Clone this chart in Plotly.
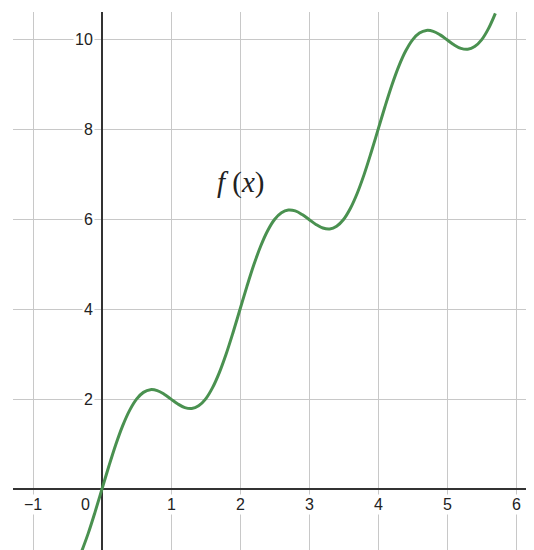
import plotly.graph_objects as go

# points
xs = [-0.3, -0.2, -0.1, 0.0, 0.1, 0.2, 0.3, 0.4, 0.5, 0.6, 0.7, 0.8, 0.9,
      1.0, 1.1, 1.2, 1.3, 1.4, 1.5, 1.6, 1.7, 1.8, 1.9,
      2.0, 2.1, 2.2, 2.3, 2.4, 2.5, 2.6, 2.7, 2.8, 2.9,
      3.0, 3.1, 3.2, 3.3, 3.4, 3.5, 3.6, 3.7, 3.8, 3.9,
      4.0, 4.1, 4.2, 4.3, 4.4, 4.5, 4.6, 4.7, 4.8, 4.9,
      5.0, 5.1, 5.2, 5.3, 5.4, 5.5, 5.6, 5.7]
ys = [-1.41, -0.99, -0.51, 0.0, 0.51, 0.99, 1.41, 1.75, 2.0, 2.15, 2.21, 2.19, 2.11,
      2.0, 1.89, 1.81, 1.79, 1.85, 2.0, 2.25, 2.59, 3.01, 3.49,
      4.0, 4.51, 4.99, 5.41, 5.75, 6.0, 6.15, 6.21, 6.19, 6.11,
      6.0, 5.89, 5.81, 5.79, 5.85, 6.0, 6.25, 6.59, 7.01, 7.49,
      8.0, 8.51, 8.99, 9.41, 9.75, 10.0, 10.15, 10.21, 10.19, 10.11,
      10.0, 9.89, 9.81, 9.79, 9.85, 10.0, 10.25, 10.59]

x_ticks = [-1, 1, 2, 3, 4, 5, 6]
x_tick_text = ["\u22121", "1", "2", "3", "4", "5", "6"]
y_ticks = [2, 4, 6, 8, 10]
y_tick_text = ["2", "4", "6", "8", "10"]

fig = go.Figure()
fig.add_trace(go.Scatter(x=xs, y=ys, mode="lines", line_shape="spline",
                         line=dict(color="#4a9150", width=3), hoverinfo="skip"))

tick_font = dict(family="Liberation Sans, Arial", size=16, color="#222")
for v, t in zip(x_ticks, x_tick_text):
    fig.add_annotation(x=v, y=0, text=t, showarrow=False, yanchor="top", yshift=-5,
                       font=tick_font, bgcolor="white", borderpad=1)
for v, t in zip(y_ticks, y_tick_text):
    fig.add_annotation(x=0, y=v, text=t, showarrow=False, xanchor="right", xshift=-7,
                       font=tick_font, bgcolor="white", borderpad=1)
fig.add_annotation(x=0, y=0, text="0", showarrow=False, xanchor="right", yanchor="top",
                   xshift=-10, yshift=-5, font=tick_font, bgcolor="white", borderpad=1)

fig.add_annotation(x=2.01, y=6.82, text="<i>f</i> (<i>x</i>)", showarrow=False,
                   font=dict(family="Liberation Serif, DejaVu Serif", size=29, color="#222"))

axis = dict(showgrid=True, gridcolor="#c8c8c8", gridwidth=1.3, zeroline=True,
            zerolinecolor="#333333", zerolinewidth=1.5, showticklabels=False,
            ticks="", showline=False, fixedrange=True)
fig.update_xaxes(axis, range=[-1.29, 6.26], dtick=1, tick0=0)
fig.update_yaxes(axis, range=[-1.36, 10.62], dtick=2, tick0=0)

# page body has an 8px margin, so the figure is sized to end at the window edge
fig.update_layout(width=526, height=542, margin=dict(l=5, r=0, t=4, b=0),
                  plot_bgcolor="white", paper_bgcolor="white", showlegend=False)

fig.write_html("out.html")
